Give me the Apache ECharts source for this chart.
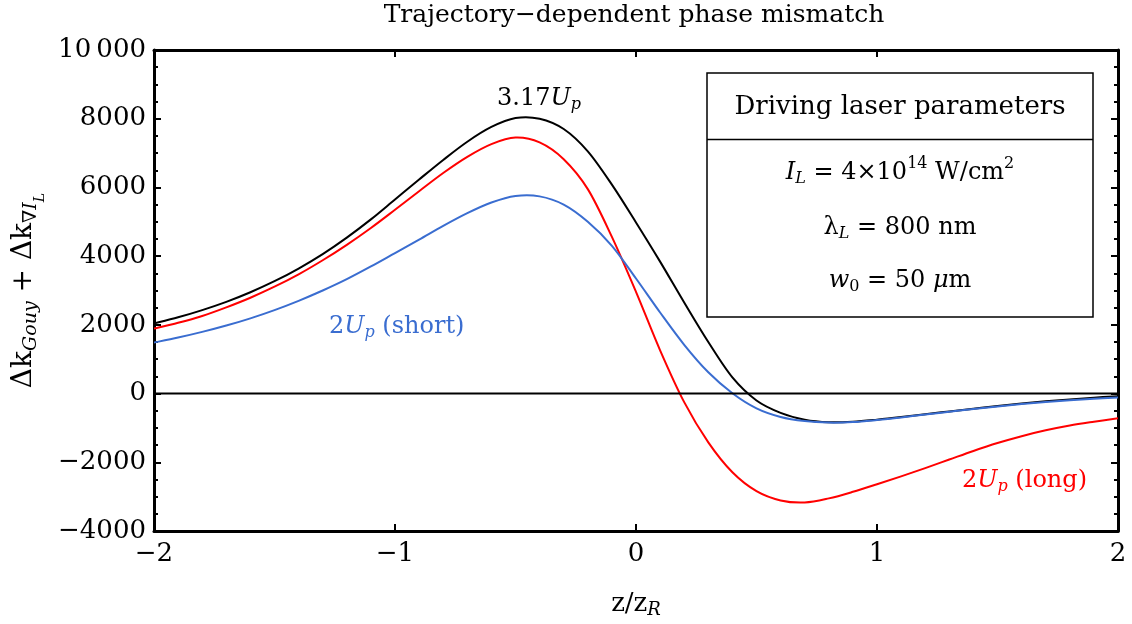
<!DOCTYPE html>
<html><head><meta charset="utf-8">
<script src="https://cdn.jsdelivr.net/npm/echarts@6/dist/echarts.min.js"></script>
<style>html,body{margin:0;padding:0;background:#fff}#c{width:1132px;height:624px}</style>
</head><body><div id="c"></div>
<script>
// z / z_R sample positions
const zValues = [-2.0,-1.9,-1.8,-1.7,-1.6,-1.5,-1.4,-1.3,-1.2,-1.1,-1.0,-0.9,-0.8,-0.7,-0.6,-0.5,-0.4,-0.3,-0.2,-0.1,0.0,0.1,0.2,0.3,0.4,0.5,0.6,0.7,0.8,0.9,1.0,1.1,1.2,1.3,1.4,1.5,1.6,1.7,1.8,1.9,2.0];
// 3.17 Up (cutoff), black
const cutoffValues = [2040,2220,2430,2670,2950,3270,3640,4060,4540,5070,5650,6230,6800,7330,7760,8020,8000,7700,7050,6080,4980,3840,2650,1500,470,-200,-560,-760,-835,-820,-760,-685,-600,-520,-440,-360,-290,-225,-170,-120,-75];
// 2 Up long trajectory, red
const longValues = [1890,2060,2260,2510,2790,3110,3470,3880,4330,4820,5350,5890,6420,6890,7260,7450,7310,6820,5950,4560,2960,1260,-250,-1420,-2290,-2840,-3110,-3170,-3050,-2860,-2640,-2410,-2170,-1920,-1670,-1440,-1240,-1070,-930,-820,-720];
// 2 Up short trajectory, blue
const shortValues = [1485,1630,1795,1980,2190,2430,2700,3000,3330,3700,4090,4480,4880,5250,5560,5750,5740,5500,5000,4300,3350,2360,1420,620,10,-430,-680,-800,-845,-830,-770,-695,-610,-530,-450,-375,-305,-245,-192,-150,-116];
// zero reference line
const zeroLineX = [-2, 2];
const zeroLineY = [0, 0];

const xTicks = [-2,-1,0,1,2];
const xTickLabels = ['\u22122','\u22121','0','1','2'];
const yTicks = [-4000,-2000,0,2000,4000,6000,8000,10000];
const yTickLabels = ['\u22124000','\u22122000','0','2000','4000','6000','8000','10\u2009000'];

const F = "'DejaVu Serif', serif";
const BLUE = '#3a6dd0';
const RED = '#ff0000';

const chart = echarts.init(document.getElementById('c'), null, {renderer:'canvas'});

function mathRich(size, color) {
  const c = size / 2;
  const pt = 10;
  const sub = Math.round(size * 0.68);
  const sup = Math.round(size * 0.65);
  const base = {fontFamily:F, color:color, fill:color, verticalAlign:'top'};
  return {
    m:  Object.assign({}, base, {fontSize:size, padding:[pt,0,0,0]}),
    mi: Object.assign({}, base, {fontSize:size, fontStyle:'italic', padding:[pt,0,0,0]}),
    s:  Object.assign({}, base, {fontSize:sub, fontStyle:'italic', padding:[Math.round(pt + c - sub/2 + 6),0,0,0]}),
    su: Object.assign({}, base, {fontSize:sub, padding:[Math.round(pt + c - sub/2 + 6),0,0,0]}),
    u:  Object.assign({}, base, {fontSize:sup, padding:[Math.round(pt + c - sup/2 - 9),0,0,0]})
  };
}

// Smooth curve through the data points (Catmull-Rom), positioned with the chart's own scales.
function splineSeries(name, values, color) {
  return {
    name: name, type:'custom', coordinateSystem:'cartesian2d', xAxisIndex:0, yAxisIndex:0,
    clip: true, silent: true,
    data: zValues.map((z,i)=>[z, values[i]]),
    encode: {x:0, y:1},
    renderItem: function (params, api) {
      if (params.dataIndex !== 0) return null;
      const pts = zValues.map((z,i)=>api.coord([z, values[i]]));
      let d = 'M' + pts[0][0] + ' ' + pts[0][1];
      const n = pts.length;
      for (let i = 0; i < n - 1; i++) {
        const p0 = pts[Math.max(i-1,0)], p1 = pts[i], p2 = pts[i+1], p3 = pts[Math.min(i+2,n-1)];
        const c1x = p1[0] + (p2[0]-p0[0])/6, c1y = p1[1] + (p2[1]-p0[1])/6;
        const c2x = p2[0] - (p3[0]-p1[0])/6, c2y = p2[1] - (p3[1]-p1[1])/6;
        d += ' C' + c1x + ' ' + c1y + ' ' + c2x + ' ' + c2y + ' ' + p2[0] + ' ' + p2[1];
      }
      return {type:'path', shape:{pathData:d}, style:{stroke:color, lineWidth:2, fill:'none'}};
    }
  };
}

const axisLineStyle = {color:'#000', width:3};
const tickStyle = {color:'#000', width:2};

const option = {
  animation: false,
  backgroundColor: '#fff',
  textStyle: {fontFamily: F},
  grid: {left:154, right:14, top:50, bottom:93, containLabel:false, outerBoundsMode:'none'},
  xAxis: [
    {type:'value', min:-2, max:2, interval:1, position:'bottom',
     axisLine:{show:true, onZero:false, lineStyle:axisLineStyle},
     axisTick:{show:true, inside:true, length:7, lineStyle:tickStyle},
     splitLine:{show:false},
     axisLabel:{show:true, margin:10, fontFamily:F, fontSize:26, color:'#000',
       formatter: v => { const i = xTicks.indexOf(v); return i >= 0 ? xTickLabels[i] : ''; }},
     name:'{m|z/z}{s|R}', nameLocation:'middle', nameGap:50,
     nameTextStyle:{rich: mathRich(26,'#000')}
    },
    {type:'value', min:-2, max:2, interval:1, position:'top',
     axisLine:{show:true, onZero:false, lineStyle:axisLineStyle},
     axisTick:{show:true, inside:true, length:7, lineStyle:tickStyle},
     splitLine:{show:false}, axisLabel:{show:false}}
  ],
  yAxis: [
    {type:'value', min:-4000, max:10000, interval:2000, position:'left',
     axisLine:{show:true, onZero:false, lineStyle:axisLineStyle},
     axisTick:{show:true, inside:true, length:7, lineStyle:tickStyle},
     minorTick:{show:true, splitNumber:4, length:4, lineStyle:tickStyle},
     splitLine:{show:false},
     axisLabel:{show:true, margin:8, fontFamily:F, fontSize:26, color:'#000',
       formatter: v => { const i = yTicks.indexOf(v); return i >= 0 ? yTickLabels[i] : ''; }},
     name:'{m|\u0394k}{s|Gouy}{m| + \u0394k}{su|\u2207}{s|I}{ss|L}', nameLocation:'middle', nameRotate:90, nameGap:104,
     nameTextStyle:{rich: Object.assign(mathRich(28,'#000'), {
        ss:{fontFamily:F, fontSize:14, color:'#000', fontStyle:'italic', verticalAlign:'top', padding:[33,0,0,0]}
     })}
    },
    {type:'value', min:-4000, max:10000, interval:2000, position:'right',
     axisLine:{show:true, onZero:false, lineStyle:axisLineStyle},
     axisTick:{show:true, inside:true, length:7, lineStyle:tickStyle},
     minorTick:{show:true, splitNumber:4, length:4, lineStyle:tickStyle},
     splitLine:{show:false}, axisLabel:{show:false}}
  ],
  series: [
    {name:'zero', type:'line', xAxisIndex:0, yAxisIndex:0, showSymbol:false, silent:true,
     lineStyle:{color:'#000', width:2}, itemStyle:{color:'#000'},
     data: zeroLineX.map((x,i)=>[x, zeroLineY[i]])},
    splineSeries('3.17Up', cutoffValues, '#000'),
    splineSeries('2Up long', longValues, RED),
    splineSeries('2Up short', shortValues, BLUE)
  ],
  graphic: [
    {type:'text', x:634, y:3, z:10,
     style:{text:'Trajectory\u2212dependent phase mismatch', fontFamily:F, fontSize:25, fill:'#000', align:'center', verticalAlign:'top'}},
    {type:'text', x:497, y:77, z:10,
     style:{text:'{m|3.17}{mi|U}{s|p}', rich: mathRich(24,'#000'), align:'left', verticalAlign:'top'}},
    {type:'text', x:329, y:305, z:10,
     style:{text:'{m|2}{mi|U}{s|p}{m| (short)}', rich: mathRich(24,BLUE), align:'left', verticalAlign:'top'}},
    {type:'text', x:962, y:459, z:10,
     style:{text:'{m|2}{mi|U}{s|p}{m| (long)}', rich: mathRich(24,RED), align:'left', verticalAlign:'top'}},
    {type:'rect', z:10, shape:{x:707, y:73, width:386, height:244},
     style:{fill:'#fff', stroke:'#000', lineWidth:1.5}},
    {type:'line', z:11, shape:{x1:707, y1:139.5, x2:1093, y2:139.5},
     style:{stroke:'#000', lineWidth:1.5}},
    {type:'text', x:900, y:107, z:12,
     style:{text:'Driving laser parameters', fontFamily:F, fontSize:26, fill:'#000', align:'center', verticalAlign:'middle'}},
    {type:'text', x:900, y:151, z:12,
     style:{text:'{mi|I}{s|L}{m| = 4\u00d710}{u|14}{m| W/cm}{u|2}', rich: mathRich(24,'#000'), align:'center', verticalAlign:'top'}},
    {type:'text', x:900, y:206, z:12,
     style:{text:'{m|\u03bb}{s|L}{m| = 800 nm}', rich: mathRich(24,'#000'), align:'center', verticalAlign:'top'}},
    {type:'text', x:900, y:259, z:12,
     style:{text:'{mi|w}{su|0}{m| = 50 }{mi|\u03bc}{m|m}', rich: mathRich(24,'#000'), align:'center', verticalAlign:'top'}}
  ]
};
chart.setOption(option);
</script>
</body></html>
